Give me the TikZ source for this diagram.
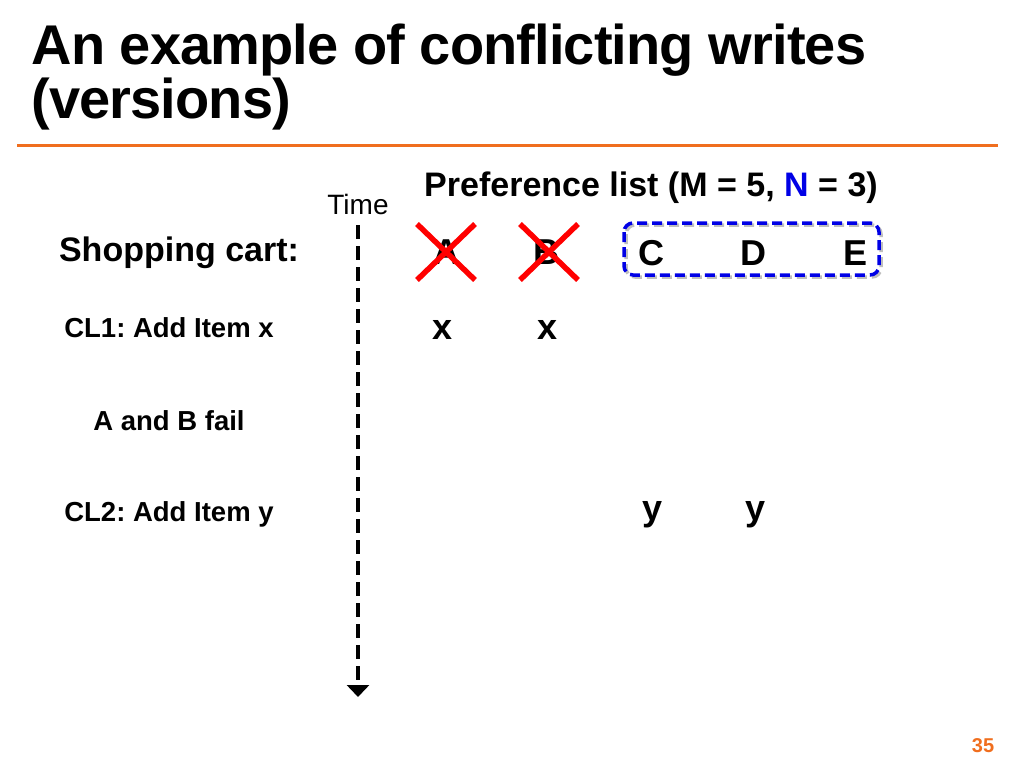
\documentclass[tikz,border=0pt]{standalone}
\usepackage{fontspec}
\setmainfont{Liberation Sans}
\usetikzlibrary{arrows.meta}
\definecolor{slideorange}{RGB}{240,110,30}
\definecolor{listblue}{RGB}{0,0,230}
\frenchspacing
\begin{document}
\begin{tikzpicture}[x=1pt, y=-1pt,
    title/.style={anchor=base west, font=\fontsize{56}{60}\selectfont\bfseries\addfontfeatures{LetterSpace=-1.6}},
    label/.style={font=\fontsize{27.5}{31}\selectfont\bfseries},
    item/.style={font=\fontsize{36}{40}\selectfont\bfseries},
    cross/.style={red, line width=5.5pt}]
    \useasboundingbox (0,0) rectangle (1024,768);

    \node[title] (t1) at (28,64) {An example of conflicting writes};
    \node[title] (t2) at (28,118) {(versions)};
    \draw[slideorange, line width=3pt] (17,145) -- (998,145);

    \node[font=\fontsize{34}{38}\selectfont\bfseries] (pref) at (651,188) {Preference list (M = 5, {\color{listblue}N} = 3)};
    \node[font=\fontsize{28}{32}\selectfont] (time) at (358,204) {Time};
    \coordinate (top) at (358,225);
    \coordinate (bot) at (358,697);
    \draw[line width=3.5pt, dash pattern=on 14pt off 7pt, -{Triangle[width=22pt,length=12pt]}] (top) -- (bot);

    \node[font=\fontsize{34}{38}\selectfont\bfseries] (cart) at (179,253) {Shopping cart:};
    \node[item] (A) at (446,252) {A};
    \node[item] (B) at (546,252) {B};
    \draw[cross] (417,224) -- (475,280) (475,224) -- (417,280);
    \draw[cross] (520,224) -- (578,280) (578,224) -- (520,280);

    % shadow, then the dashed box
    \draw[black!25, line width=3.5pt, dash pattern=on 10pt off 5pt, rounded corners=9pt] (626,225) rectangle (881,277);
    \draw[listblue, line width=3.5pt, dash pattern=on 10pt off 5pt, rounded corners=9pt] (624,223) rectangle (879,275);
    \node[item] (C) at (651,253) {C};
    \node[item] (D) at (753,253) {D};
    \node[item] (E) at (855,253) {E};

    \node[label] (cl1) at (169,328) {CL1: Add Item x};
    \node[item] (x1) at (443,330) {x};
    \node[item] (x2) at (548,330) {x};

    \node[label] (fail) at (169,421) {A and B fail};

    \node[label] (cl2) at (169,514) {CL2: Add Item y};
    \node[item] (y1) at (653,515) {y};
    \node[item] (y2) at (755,515) {y};

    \node[slideorange, font=\fontsize{20}{24}\selectfont\bfseries] (page) at (983,746) {35};
\end{tikzpicture}
\end{document}
